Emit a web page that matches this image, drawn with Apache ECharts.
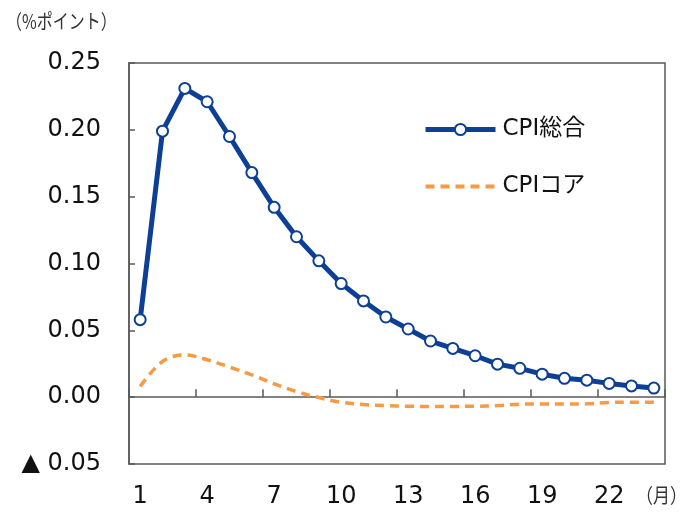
<!DOCTYPE html>
<html>
<head>
<meta charset="utf-8">
<script src="https://cdn.jsdelivr.net/npm/echarts@6/dist/echarts.min.js"></script>
<style>
  html, body { margin: 0; padding: 0; background: #fff; }
  #chart { width: 693px; height: 513px; }
</style>
</head>
<body>
<div id="chart"></div>
<script>
// 経過月
const months = Array.from({ length: 24 }, (_, i) => String(i + 1));
// CPI総合への影響（%ポイント）
const cpiTotal = [0.058, 0.199, 0.231, 0.221, 0.195, 0.168, 0.142, 0.120, 0.102, 0.085,
  0.072, 0.060, 0.051, 0.042, 0.0365, 0.031, 0.0247, 0.0216, 0.0172, 0.0141,
  0.0127, 0.0103, 0.0084, 0.0068];
// CPIコアへの影響（%ポイント）
const cpiCore = [0.008, 0.0267, 0.0317, 0.028, 0.0225, 0.0167, 0.010, 0.0042, -0.0003, -0.0038,
  -0.0055, -0.0063, -0.0068, -0.0069, -0.0069, -0.0068, -0.0063, -0.0052, -0.0051, -0.0051,
  -0.0050, -0.0040, -0.0038, -0.0038];

const fontNum = "'DejaVu Sans', 'Noto Sans CJK JP', sans-serif";
const axisColor = '#595959';
const blue = '#0D3F95';
const orange = '#F79A46';

const chart = echarts.init(document.getElementById('chart'), null, { renderer: 'canvas' });

chart.setOption({
  animation: false,
  backgroundColor: '#fff',
  grid: {
    left: 129, right: 28, top: 63, bottom: 49,
    show: true, borderColor: axisColor, borderWidth: 1.5
  },
  graphic: [
    { type: 'text', x: 6, y: 11, scaleX: 0.8, style: { text: '（%ポイント）', font: "20px 'Noto Sans CJK JP'", fill: '#333' } },
    { type: 'text', x: 636, y: 485, scaleX: 0.85, style: { text: '（月）', font: "20px 'Noto Sans CJK JP'", fill: '#333' } }
  ],
  legend: {
    orient: 'vertical',
    left: 418, top: 113,
    itemWidth: 70, itemHeight: 14, itemGap: 34,
    textStyle: { fontFamily: fontNum, fontSize: 23, color: '#111', padding: [0, 0, 0, 2] },
    data: [
      { name: 'CPI総合', lineStyle: { width: 5, color: blue } },
      { name: 'CPIコア', itemStyle: { opacity: 0 }, lineStyle: { width: 4, color: orange, type: [9, 6] } }
    ]
  },
  xAxis: [
    {
      type: 'category', data: months, position: 'bottom',
      axisLine: { show: false, onZero: false },
      axisTick: { show: false },
      axisLabel: { interval: 2, margin: 21, fontFamily: fontNum, fontSize: 24, color: '#111' }
    },
    {
      type: 'category', data: months, position: 'bottom',
      axisLine: { show: true, onZero: true, lineStyle: { color: axisColor, width: 1.5 } },
      axisTick: { show: true, inside: true, interval: 2, length: 8, lineStyle: { color: axisColor, width: 1.5 } },
      axisLabel: { show: false }
    }
  ],
  yAxis: {
    type: 'value', min: -0.05, max: 0.25, interval: 0.05,
    axisLine: { show: true, lineStyle: { color: axisColor, width: 1.5 } },
    axisTick: { show: true, inside: true, length: 6, lineStyle: { color: axisColor, width: 1.5 } },
    splitLine: { show: false },
    axisLabel: {
      margin: 28, fontFamily: fontNum, fontSize: 24, color: '#111',
      formatter: v => v < 0 ? '▲ ' + Math.abs(v).toFixed(2) : v.toFixed(2)
    }
  },
  series: [
    {
      name: 'CPI総合', type: 'line', data: cpiTotal, xAxisIndex: 0,
      symbol: 'circle', symbolSize: 11,
      lineStyle: { color: blue, width: 5 },
      itemStyle: { color: '#fff', borderColor: blue, borderWidth: 2 },
      z: 3
    },
    {
      name: 'CPIコア', type: 'line', data: cpiCore, xAxisIndex: 0,
      symbol: 'none', smooth: 0.35,
      lineStyle: { color: orange, width: 3.5, type: [9, 6] },
      itemStyle: { color: orange },
      z: 2
    }
  ]
});
</script>
</body>
</html>
